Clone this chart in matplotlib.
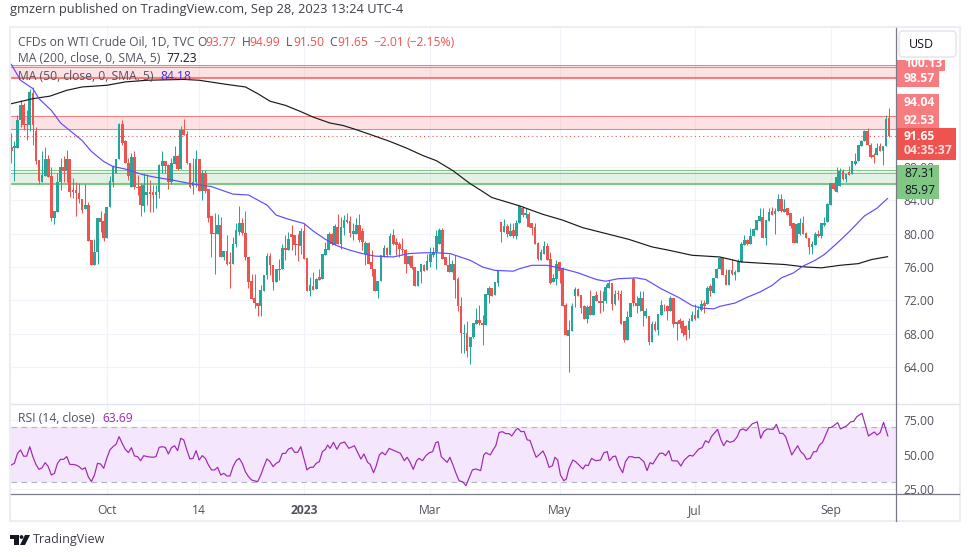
from matplotlib import pyplot as plt
from matplotlib.patches import Rectangle, FancyBboxPatch, Polygon, Circle

plt.rcParams['font.family'] = ['Open Sans', 'DejaVu Sans']

# daily candles
opens = [90.3,90.2,90.2,93.6,95.3,93.1,92.9,96.8,92.3,88.8,
         86.2,86.9,88.9,86.9,81.8,82.6,86.1,87.9,87.5,88.9,
         85.2,85.2,84.8,84.1,82.9,83.4,79.2,76.2,77.8,81.8,
         81.5,79.5,83.2,86.2,87.2,88.9,93.1,91.0,88.4,85.6,
         89.1,85.6,85.7,83.3,84.6,85.0,85.0,84.6,84.9,88.1,
         88.6,88.2,86.2,88.3,89.2,87.7,92.4,91.9,88.4,85.7,
         86.1,88.9,85.1,87.2,85.3,82.1,80.0,80.0,81.0,77.2,
         77.9,76.6,76.4,78.8,80.2,81.3,80.1,77.2,74.3,72.3,
         71.7,71.3,73.1,75.0,77.3,76.2,74.2,75.6,75.8,78.3,
         78.0,79.9,79.8,78.7,78.5,80.3,77.1,73.1,73.7,73.4,
         74.8,74.6,77.4,78.0,79.9,78.6,80.8,78.8,80.7,81.6,
         81.5,80.0,80.0,81.0,80.3,77.6,78.9,76.6,75.8,73.1,
         74.3,77.3,78.3,77.4,79.8,79.0,78.7,78.2,78.0,76.4,
         77.3,76.0,73.7,75.4,76.2,75.6,76.6,77.4,77.8,78.8,
         80.4,77.2,76.2,75.4,76.4,74.6,71.3,68.0,68.1,66.5,
         67.6,69.2,69.7,69.3,69.1,72.7,73.5,72.6,74.1,81.4,
         80.2,80.9,79.7,80.4,79.7,81.2,83.1,82.2,82.3,81.2,
         80.8,78.9,76.8,77.6,78.5,76.9,74.2,74.6,76.6,75.9,
         71.5,67.8,68.4,72.5,73.4,72.6,71.3,69.8,71.3,70.3,
         72.6,71.9,71.7,71.9,73.5,74.1,71.6,72.9,72.8,69.5,
         67.3,70.0,74.6,71.7,71.3,72.3,70.1,70.1,67.1,69.2,
         68.5,70.3,71.4,71.3,70.7,72.3,69.2,69.7,69.5,68.9,
         68.5,69.6,70.3,69.9,70.9,71.7,71.6,73.7,72.9,74.7,
         75.8,77.1,75.0,73.9,75.6,75.0,75.4,76.6,78.6,79.2,
         78.7,79.7,80.4,81.5,82.0,79.5,81.5,82.7,82.3,82.7,
         84.1,82.6,83.0,82.4,81.2,78.9,79.9,81.3,80.1,79.5,
         78.4,78.6,79.9,79.7,81.0,81.4,83.4,86.0,84.9,85.7,
         87.5,86.5,87.4,87.1,88.3,88.7,90.5,91.0,92.2,90.6,
         89.4,89.4,90.4,89.8,90.4,93.77]
closes = [89.8,90.4,93.6,95.3,92.9,92.9,96.9,92.9,88.7,86.3,
          87.0,88.9,86.8,81.8,82.7,86.1,87.9,87.5,88.9,85.0,
          85.0,84.8,84.1,82.8,83.4,79.1,76.2,77.8,81.8,81.4,
          79.5,83.2,86.3,88.0,88.9,93.1,90.8,88.4,86.9,89.1,
          85.5,85.4,83.4,85.8,84.9,84.7,84.6,85.0,88.2,88.6,
          88.1,86.2,88.4,89.2,87.7,92.4,91.8,88.4,85.5,86.1,
          88.9,85.1,87.2,85.1,81.9,79.9,80.1,81.0,77.2,77.9,
          76.4,76.4,78.8,80.4,81.3,80.1,77.2,74.2,72.2,71.7,
          71.3,73.3,75.0,77.3,76.2,74.2,75.8,75.8,78.3,78.0,
          79.3,79.6,78.6,78.6,80.3,76.9,73.1,73.9,73.3,74.6,
          74.4,77.6,78.1,79.9,78.7,80.9,78.8,80.8,81.6,81.4,
          80.1,80.3,81.0,79.2,79.0,78.9,76.4,75.8,73.1,74.3,
          77.4,78.3,77.4,79.7,78.8,78.6,78.2,78.0,76.4,77.3,
          75.9,73.7,75.5,76.4,75.5,76.7,77.6,77.8,79.7,80.4,
          77.0,76.2,75.4,76.4,74.4,71.3,68.1,68.1,66.0,67.7,
          69.3,69.7,69.3,69.1,72.8,73.5,72.5,74.2,75.5,80.2,
          80.9,80.0,80.3,79.7,81.3,83.3,82.2,82.5,80.8,80.7,
          78.8,77.0,77.8,78.5,76.8,74.1,74.7,76.4,75.5,71.3,
          67.9,68.5,71.3,73.4,72.5,71.1,69.8,71.2,70.3,72.5,
          71.9,71.7,71.9,73.6,74.1,71.6,72.8,72.8,69.2,67.3,
          70.0,71.7,71.7,71.3,72.3,70.7,70.8,67.1,69.2,68.5,
          70.4,71.5,71.3,70.7,72.3,69.2,69.4,69.2,68.1,67.9,
          69.6,70.3,69.8,70.9,71.6,71.3,73.5,73.1,74.7,75.8,
          77.1,75.0,73.9,75.6,75.2,75.4,76.7,78.7,79.2,78.7,
          79.7,80.5,81.6,82.1,79.5,81.6,82.6,82.2,82.7,84.1,
          82.7,82.9,82.2,80.9,78.9,81.1,81.3,80.0,79.5,78.4,
          78.7,79.9,79.7,81.2,81.2,83.5,86.0,85.3,86.7,87.5,
          86.5,87.1,87.0,88.7,88.7,90.6,91.1,92.3,90.6,89.1,
          89.1,90.2,89.8,90.4,93.7,91.65]
highs = [92.0,91.0,94.1,95.9,95.6,94.7,97.2,97.5,92.7,88.8,
         89.8,90.3,89.4,87.9,82.7,87.2,89.0,89.2,90.0,88.9,
         86.6,86.1,86.0,84.1,85.9,83.8,79.2,79.3,81.8,82.7,
         82.4,83.2,86.9,88.2,88.9,93.2,93.5,91.2,89.0,89.6,
         89.8,87.0,86.0,87.2,87.1,86.4,85.8,85.8,88.3,89.8,
         88.6,88.3,89.0,90.4,89.4,92.8,93.7,92.2,88.4,89.0,
         90.0,88.9,87.6,87.6,85.3,82.1,82.4,82.3,82.0,77.9,
         79.8,77.8,79.6,81.2,83.3,81.8,82.7,77.2,75.2,75.2,
         71.7,73.9,75.0,77.7,77.7,76.2,75.8,76.9,78.8,79.8,
         80.2,81.0,79.8,79.9,80.6,81.3,77.1,74.8,75.4,74.7,
         75.8,77.6,79.0,80.2,80.1,81.1,82.3,82.0,82.2,82.5,
         82.1,81.2,81.8,82.3,80.6,79.1,79.0,78.0,75.8,74.3,
         77.4,78.6,78.4,80.1,80.5,79.5,79.0,79.5,78.1,77.3,
         77.4,76.0,75.5,76.4,76.4,77.6,78.4,78.4,80.4,80.6,
         80.7,77.2,77.6,76.8,77.4,74.8,72.4,69.2,69.5,67.7,
         69.3,71.1,71.5,70.3,72.8,73.7,73.5,74.2,75.6,81.4,
         81.7,81.1,81.2,81.2,81.6,83.4,83.3,83.0,82.6,81.2,
         81.2,79.0,78.1,79.1,78.9,77.8,75.2,76.8,76.6,76.0,
         71.7,69.7,71.7,73.6,73.5,72.6,71.5,71.5,73.2,72.5,
         73.1,73.2,73.1,74.0,74.5,74.1,73.2,73.2,73.2,69.5,
         70.7,71.7,74.8,72.5,73.1,73.1,71.1,70.1,69.5,69.5,
         70.4,72.0,71.6,71.5,72.5,72.3,69.5,69.9,69.7,69.1,
         69.9,70.7,71.6,71.3,72.1,72.1,73.7,74.0,74.7,75.9,
         77.2,77.2,75.8,75.8,76.9,75.6,76.9,79.0,79.8,79.3,
         80.6,80.6,81.6,83.0,83.0,81.6,83.1,83.2,83.1,84.7,
         84.7,84.1,83.1,82.4,81.2,81.3,81.9,82.1,80.2,79.5,
         79.1,80.2,80.4,81.3,82.0,83.6,86.0,86.0,87.9,87.8,
         87.7,87.1,88.1,88.7,89.6,90.6,91.2,92.4,92.6,90.8,
         89.6,90.8,90.8,90.4,94.1,94.99]
lows = [88.4,86.3,90.2,92.7,92.4,91.2,92.3,90.6,88.3,85.9,
        86.2,86.9,86.7,81.5,81.1,82.6,85.2,86.2,86.2,84.4,
        84.2,82.1,83.6,82.4,82.9,79.1,76.2,76.2,76.4,80.2,
        79.1,79.5,83.2,85.6,87.2,88.9,90.6,88.4,86.4,85.6,
        85.3,84.6,82.1,82.6,83.4,82.6,82.6,83.0,84.2,87.2,
        87.2,85.3,85.9,88.3,87.6,87.7,91.8,88.3,85.4,84.7,
        85.6,85.1,84.0,84.8,81.4,77.2,75.2,80.0,77.2,76.8,
        76.2,73.5,76.4,78.4,79.8,79.8,76.8,73.5,72.2,71.1,
        70.1,70.2,73.1,74.6,75.0,73.3,74.2,74.4,75.8,76.8,
        78.0,78.0,77.4,76.7,77.6,76.9,73.1,72.5,73.3,73.4,
        74.4,74.6,77.4,78.0,78.6,78.6,78.8,78.2,79.8,81.2,
        79.6,79.2,80.0,79.0,78.0,76.2,76.4,74.9,73.1,72.3,
        74.3,77.2,77.2,77.4,78.6,77.4,77.2,77.4,75.3,76.2,
        75.8,73.7,73.7,74.1,75.5,75.6,76.0,77.2,75.8,78.8,
        77.0,76.2,75.4,75.4,72.3,70.8,65.7,65.7,65.2,64.4,
        67.5,69.2,69.1,66.7,69.1,71.7,72.5,72.6,73.7,79.0,
        80.2,79.6,79.7,79.5,79.3,81.2,82.0,81.8,80.8,79.8,
        78.7,76.8,76.8,77.6,76.8,74.0,74.2,73.8,74.1,71.3,
        67.9,63.5,68.4,71.2,72.5,70.5,69.8,69.3,70.3,70.3,
        71.9,70.5,70.7,71.7,73.5,70.9,71.5,72.1,69.2,67.0,
        67.3,70.0,71.3,70.5,70.7,69.0,69.9,66.7,67.1,68.3,
        67.9,70.3,70.7,69.7,70.7,68.8,67.3,68.7,67.8,67.3,
        67.5,69.5,69.7,69.9,70.8,70.5,71.6,72.5,72.9,74.7,
        75.8,75.0,73.9,73.9,75.0,74.5,75.4,76.6,78.6,78.6,
        78.7,79.7,80.4,81.5,79.5,78.6,81.5,82.2,80.0,82.7,
        82.6,82.6,82.2,80.6,78.9,78.9,79.8,80.0,79.5,77.5,
        77.5,78.6,79.6,79.5,80.9,81.4,83.4,85.2,84.9,85.7,
        86.4,86.1,87.0,87.1,88.2,88.7,90.5,91.0,90.6,89.0,
        88.4,89.4,89.8,88.2,90.4,91.50]

# moving averages, sampled at bar positions
ma50_x = [0,3,7,9,13,16,20,23,26,30,33,37,43,47,52,59,65,72,77,83,86,90,95,98,102,106,110,114,118,124,129,134,138,
          142.5,149,153,157,163,165,169,174,179,184,190,193,197,203,206,211,217,221,224,228,230,235,239,243,247,250,
          254,257,261,264,268,272,277,281,284.5]
ma50 = [100.2,98.3,97.3,96.1,94.7,93.2,92.0,91.1,89.8,88.6,88.0,87.7,87.0,86.7,86.4,85.9,85.6,84.7,84.6,83.4,82.2,
        81.7,81.2,80.3,79.3,78.5,78.0,77.6,77.3,77.2,77.6,77.7,77.7,
        77.6,76.8,76.0,75.6,75.5,75.8,76.2,76.2,75.8,75.3,74.5,74.3,74.6,74.7,74.5,73.4,72.3,71.4,71.1,71.0,71.3,71.7,
        72.4,73.0,73.8,74.7,75.3,76.1,76.8,77.5,78.8,80.2,82.1,83.0,84.18]
ma200_x = [0,7,12.5,18,23,31,37,44,56,61,70,76,80,84,89,93.7,98,103.4,107.7,112,117.5,122.9,128.3,133.7,138,143.4,
           148.8,153.1,156,165,172.5,179,185.5,193,200.5,208,213.5,221,230,237,246,251,258,263,269,275,279.4,284.5]
ma200 = [95.5,96.1,96.4,97.1,97.5,97.7,98.1,98.3,98.4,98.3,97.8,97.5,96.7,95.8,95.3,94.6,93.9,93.2,92.9,92.4,91.7,
         91.0,90.2,89.3,88.7,87.5,86.0,85.0,84.3,83.3,82.3,81.6,80.7,80.0,79.3,78.4,78.0,77.4,77.2,76.6,76.4,76.3,
         76.0,75.9,76.2,76.4,76.9,77.23]

# RSI (14)
rsi_x = list(range(0, 95)) + [96,97,98,99,100,101,102,102.7,103.5,104.6,105.7,106.8,108.2,109.6,111.4,113.5,114.5,115.7,
         116.5,117.6,118.4,119.5,120.4,121.4,122.7,123.8,124.9,126.3,127.6,128.5,129.4,130.5,131.6,132.4,133.5,134.6,
         135.7,136.8,137.8,138.6,139.6,140.5,141.5,142.4,143.4,144.3,145.4,146.5,147.6,148.6,149.7,150.8,152.4,153.4,
         154.1,155.5,156.4,157.3,158.4,159.5,160.5,161.6,162.5,163.8,164.5,165.5,166.5,167.5,168.4,169.5,170.4,171.3,
         172.6,173.5,174.6,175.7,176.5,177.4,178.3,179.4,180.2,181,182.3,183.2,185.6,186.4,187.3,188.4,189.7,191.3,
         192.4,193.5,194.2,195.3,196.2,197.3,198.5,199.4,200.5,201.6,202.4,203.8,205.4,206.4,207.4,208.3,209.4,210.5,
         211.6,212.4,213.5,214.5,216.3,217.4,218.5,220.2,221.3,223.2,224.3,225.4,226.4,227.3,229.3,230.4,231.3,232.3,
         233.3,234.6,235.7,236.6,237.6,238.6,240.5,242.2,243.3,244.3,245.4,247.4,248.4,249.5,250.5,251.4,253.4,255.3,
         256.3,257.3,258.2,259.4,260.5,261.4,262.4,263.4,265.4,266.3,268.3,269.2,271.2,272.5,273.5,274.5,276.2,278.3,
         280.2,281.1,282.1,283.2,284.6]
rsi = [42.6,43.8,51,53.5,49,49,55.9,48.7,43,39.4,40.6,44.3,41.4,35.3,36.5,43.8,46.7,46.7,48.7,43,
       43,42.6,41.4,39.4,40.6,34,30.5,35.3,43.8,43.3,40.2,47.4,53.5,55.9,57.6,63.2,58.3,54,51.6,55.2,
       49.1,48.7,45.7,49.4,48.7,48.4,48.2,48.7,55.4,55.9,55.4,50.6,55.2,56.6,53,62,60.8,53.5,47,47.4,
       53,46.2,49.4,47.4,42.6,39,39,40.9,35.3,36.5,34.6,34.6,41.4,45.7,47.4,43.8,37.7,34.1,31.7,31,
       30.5,35.3,41.4,47,45,41.4,43.8,45,51,51,54.2,55.2,51.8,51.8,55.9,
       39,40.9,40.9,43.8,45,52.3,54,57.1,54.7,59.1,54,58.3,59.3,54.7,56.6,46.9,50.6,44.5,
       43.1,37,41.4,49.9,51.8,49.9,54.7,53.5,52.5,51.1,45.7,48.2,45,39.4,45.7,47.4,45.7,49.4,
       51.5,52.3,58.8,59.5,48.6,46.7,44.5,48.2,42.6,37,31,30.5,27.5,32.9,39,39.7,38.5,49.9,
       51.5,49.9,53.5,56.6,66.3,66.8,65.4,65.4,63.7,68,69.2,66.8,67,60.8,60.5,53.5,48.2,49.9,
       52.8,48.6,40.9,42.1,48.2,46.2,35.3,31.2,32.4,39.7,46.2,45,39.7,42.6,42.1,47.4,45.7,46.2,
       51.5,52.3,45.7,48.6,49.1,41.8,37,45,48.6,48.6,47.9,48.1,45,38.5,44.3,43.3,47.4,51.1,
       51.1,49.4,53,45.7,45.5,41.8,46.2,49.6,49.1,54.2,55.2,60.3,58.8,63.2,68.5,60.8,56.6,60.3,
       59.1,60,63.2,68,68.8,67.5,72.4,74,62,66.8,68.8,68.5,72.2,65.6,65.6,63.2,49.9,56.6,
       52.3,50.3,46.7,47.4,52.3,52.3,57.1,59.1,69.7,70,73.4,68.8,71,73.9,74.3,77.7,80.2,63.7,
       66.6,64.4,66.1,73.6,63.69]

# zones and price levels
red_zones = [(98.57, 100.13), (92.53, 94.04)]
green_zone = (85.97, 87.31)
last_price = 91.65
price_ticks = [64, 68, 72, 76, 80, 84, 88]
rsi_ticks = [25, 50, 75]
date_ticks = [31, 61, 95, 136, 178, 222, 266]
date_labels = ['Oct', '14', '2023', 'Mar', 'May', 'Jul', 'Sep']

UP = '#26a69a'
DOWN = '#ef5350'
ZONE_RED = '#f77c80'
ZONE_GREEN = '#81c784'
GRID = '#f0f3fa'
TEXT = '#50535e'
FS = 8.7

W, H = 970, 557
PITCH = 3.08
X0 = 11.3


def pane(top, bottom):
    ax = fig.add_axes([11 / W, 1 - bottom / H, 885 / W, (bottom - top) / H])
    ax.set_xlim((11 - X0) / PITCH, (896 - X0) / PITCH)
    for s in ax.spines.values():
        s.set_visible(False)
    ax.tick_params(length=0, labelsize=FS, labelcolor=TEXT)
    ax.yaxis.tick_right()
    ax.set_xticks(date_ticks)
    ax.grid(True, color=GRID, lw=0.8)
    ax.set_axisbelow(True)
    return ax


fig = plt.figure(figsize=(W / 100, H / 100), dpi=100)

# main price pane
ax = pane(28, 403.5)
ax.set_ylim(59.7, 104.54)
ax.set_yticks(price_ticks)
ax.set_yticklabels([f'{t:.2f}' for t in price_ticks])
ax.tick_params(axis='y', pad=5.5)
ax.set_xticklabels([])

for lo, hi in red_zones:
    ax.axhspan(lo, hi, color=ZONE_RED, alpha=0.22, lw=0, zorder=1)
    ax.axhline(hi, color=ZONE_RED, lw=0.75, zorder=1.5)
ax.axhline(99.9, color=ZONE_RED, lw=0.75, zorder=1.5)
ax.axhline(red_zones[0][0], color=ZONE_RED, lw=1.5, zorder=1.5)
ax.axhline(red_zones[1][0], color=ZONE_RED, lw=0.75, zorder=1.5)
ax.axhspan(green_zone[0], green_zone[1], color=ZONE_GREEN, alpha=0.22, lw=0, zorder=1)
ax.axhline(87.55, color=ZONE_GREEN, lw=0.75, zorder=1.5)
ax.axhline(green_zone[1] - 0.1, color=ZONE_GREEN, lw=0.75, zorder=1.5)
ax.axhline(green_zone[0], color=ZONE_GREEN, lw=1.5, zorder=1.5)

for i in range(len(opens)):
    col = UP if closes[i] >= opens[i] else DOWN
    ax.vlines(i, lows[i], highs[i], color=col, lw=0.72, zorder=2)
    ax.bar(i, abs(closes[i] - opens[i]), bottom=min(opens[i], closes[i]), width=0.88, color=col, lw=0, zorder=2.1)

ax.axhline(last_price, color=DOWN, lw=0.75, ls=(0, (1, 3)), zorder=2.5)
ax.plot(ma200_x, ma200, color='#1a1a1a', lw=0.85, zorder=3)
ax.plot(ma50_x, ma50, color='#5b4dff', lw=0.85, zorder=3)

# RSI pane
ax2 = pane(404, 494)
ax2.set_ylim(50 + (454.8 - 494) / 1.375, 50 + (454.8 - 404) / 1.375)
ax2.set_yticks(rsi_ticks)
ax2.set_yticklabels([f'{t:.2f}' for t in rsi_ticks])
ax2.tick_params(axis='y', pad=5.5)
ax2.set_xticklabels(date_labels)
ax2.tick_params(axis='x', pad=7)
ax2.get_xticklabels()[2].set_fontweight('bold')
ax2.axhspan(30, 70, color='#f4e6fd', lw=0, zorder=0.9)
ax2.axhline(70, color='#b2b5be', lw=0.8, ls=(0, (5, 4)), zorder=1.5)
ax2.axhline(30, color='#b2b5be', lw=0.8, ls=(0, (5, 4)), zorder=1.5)
ax2.plot(rsi_x, rsi, color='#9c27b0', lw=0.85, zorder=3)

# overlay in picture pixels for frame, legend text and price tags
ov = fig.add_axes([0, 0, 1, 1], zorder=10)
ov.set_xlim(0, W)
ov.set_ylim(H, 0)
ov.axis('off')
ov.patch.set_alpha(0)

FRAME = '#eceef4'
ov.add_patch(Rectangle((10, 27), 950, 494, fill=False, ec=FRAME, lw=1.5))
ov.plot([11, 959], [403.5, 403.5], color='#e0e3eb', lw=1)
ov.plot([11, 959], [494, 494], color='#787b86', lw=0.9)
ov.plot([896.5, 896.5], [28, 521], color='#787b86', lw=0.9)


def label(x, y, s, color=TEXT, size=FS, weight='normal', **kw):
    return ov.text(x, y, s, color=color, fontsize=size, fontweight=weight, va='center', ha='left', **kw)


label(10, 10, 'gmzern published on TradingView.com, Sep 28, 2023 13:24 UTC-4', color='#3c3f48', size=9.3)
label(18, 42, 'CFDs on WTI Crude Oil, 1D, TVC')
for x, s, c in [(197, 'O', TEXT), (205, '93.77', DOWN), (242, 'H', TEXT), (249, '94.99', DOWN),
                (286, 'L', TEXT), (293, '91.50', DOWN), (329, 'C', TEXT), (337, '91.65', DOWN),
                (373, '\u22122.01', DOWN), (407, '(\u22122.15%)', DOWN)]:
    label(x, 42, s, color=c)
label(18, 59, 'MA (200, close, 0, SMA, 5)')
label(166, 59, '77.23', color='#131722')
label(18, 76, 'MA (50, close, 0, SMA, 5)')
label(160, 76, '84.18', color='#3a2fe0')
label(18, 419, 'RSI (14, close)')
label(102, 419, '63.69', color='#9c27b0')

# USD button
ov.add_patch(FancyBboxPatch((902, 34), 51, 20, boxstyle='round,pad=3,rounding_size=4', fc='white', ec='#e0e3eb', lw=1))
label(909, 45, 'USD', color='#131722', size=9)

# price tags, pushed apart like the platform does it
clip = Rectangle((896, 60), 60, 12, transform=ov.transData)
ov.add_patch(Rectangle((897, 60), 48, 11, fc=ZONE_RED, lw=0))
t = ov.text(904, 63.5, '100.13', color='white', fontsize=FS, fontweight='bold', va='center')
t.set_clip_path(clip)
ov.add_patch(Rectangle((897, 70), 42, 17, fc=ZONE_RED, lw=0))
ov.add_patch(Rectangle((897, 94), 42, 35, fc=ZONE_RED, lw=0))
ov.add_patch(Rectangle((897, 128), 59, 32, fc=DOWN, lw=0))
ov.add_patch(Rectangle((897, 165), 42, 33.5, fc=ZONE_GREEN, lw=0))
label(904, 78.3, '98.57', color='white', weight='bold')
label(904, 102.7, '94.04', color='white', weight='bold')
label(904, 120, '92.53', color='white', weight='bold')
label(904, 136.7, '91.65', color='white', weight='bold')
label(904, 150.5, '04:35:37', color='#fde0e0', weight='bold')
label(904, 173.3, '87.31', color='#131722')
label(904, 190.7, '85.97', color='#131722')

# TradingView logo and name
ov.add_patch(Polygon([(10, 535), (19, 535), (19, 545), (14.5, 545), (14.5, 539), (10, 539)], fc='#131722', lw=0))
ov.add_patch(Circle((21.5, 537), 1.9, fc='#131722', lw=0))
ov.add_patch(Polygon([(25, 535), (30, 535), (25, 545), (20, 545)], fc='#131722', lw=0))
label(33, 540, 'TradingView', color='#3c3f48', size=9)

fig.savefig('out.png', dpi=100)
